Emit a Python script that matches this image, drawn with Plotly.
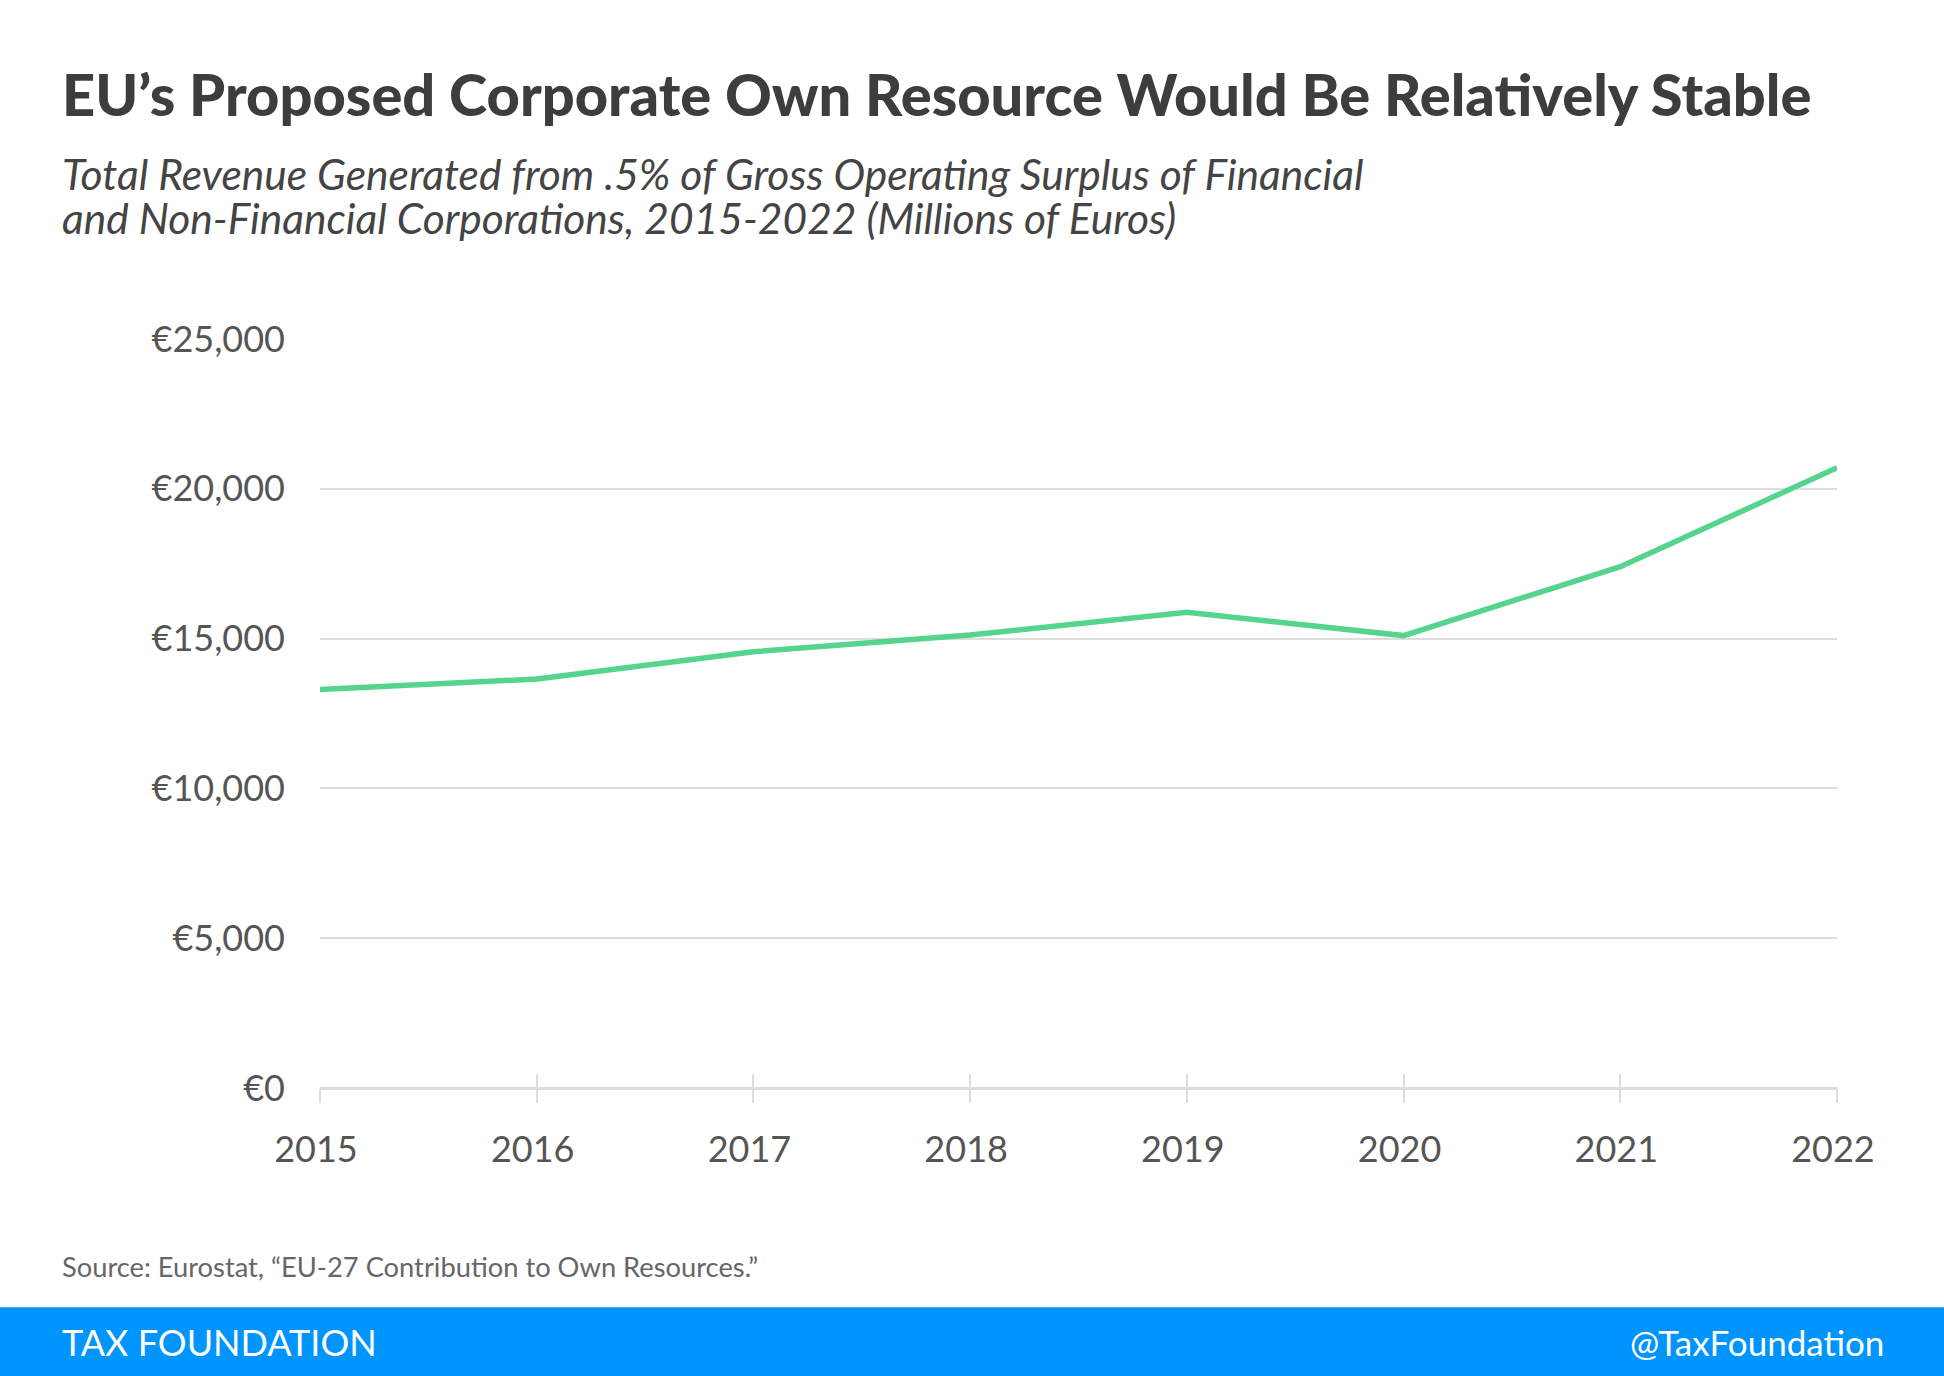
import plotly.graph_objects as go

years = [2015, 2016, 2017, 2018, 2019, 2020, 2021, 2022]
revenue = [13300, 13650, 14560, 15120, 15880, 15100, 17400, 20700]
y_ticks = [0, 5000, 10000, 15000, 20000, 25000]
y_tick_text = ["€" + f"{v:,}" for v in y_ticks]

W_FIG, H_FIG = 1944, 1376
L, R = 320, 1837
T, B = 338.5, 1088.5
PW, PH = R - L, B - T

def px(xp):
    return (xp - L) / PW

def py(yp):
    return (B - yp) / PH

GREEN = "#55D48E"
TXT = "#555555"

fig = go.Figure()
fig.add_trace(go.Scatter(x=years, y=revenue, mode="lines",
                         line=dict(color=GREEN, width=5.5), showlegend=False,
                         hoverinfo="skip"))
fig.add_trace(go.Scatter(x=years, y=[None]*len(years), xaxis="x2", mode="lines",
                         showlegend=False, hoverinfo="skip"))

fig.update_layout(
    width=W_FIG, height=H_FIG,
    margin=dict(l=L, r=W_FIG - R, t=T, b=H_FIG - B),
    paper_bgcolor="white", plot_bgcolor="white",
    font=dict(family="Lato", color=TXT),
    xaxis=dict(range=[2015, 2022], tickvals=years, ticktext=[str(y) for y in years],
               showgrid=False, zeroline=False, showline=False,
               ticks="outside", ticklen=14, tickwidth=2, tickcolor="#dddddd",
               ticklabelstandoff=16, ticklabelshift=-4,
               tickfont=dict(size=36, color=TXT, family="Lato")),
    xaxis2=dict(range=[2015, 2022], overlaying="x", tickvals=years, showticklabels=False,
                showgrid=False, zeroline=False, showline=False,
                ticks="inside", ticklen=14, tickwidth=2, tickcolor="#dddddd"),
    yaxis=dict(range=[0, 25000], tickvals=y_ticks, ticktext=y_tick_text,
               showgrid=True, gridcolor="#dddddd", gridwidth=1.5,
               zeroline=True, zerolinecolor="#dddddd", zerolinewidth=2.5,
               showline=False, ticks="", ticklabelstandoff=34,
               tickfont=dict(size=36, color=TXT, family="Lato")),
)

annotations = [
    dict(text="EU’s Proposed Corporate Own Resource Would Be Relatively Stable",
         x=px(60), y=py(93), xanchor="left", yanchor="middle",
         font=dict(size=57.8, color="#3d3d3d", family="Lato", weight=900)),
    dict(text="<i>Total Revenue Generated from .5% of Gross Operating Surplus of Financial</i>",
         x=px(60), y=py(172.5), xanchor="left", yanchor="middle", align="left",
         font=dict(size=42.5, color="#444444", family="Lato")),
    dict(text="<i>and Non-Financial Corporations, 2015-2022 (Millions of Euros)</i>",
         x=px(60), y=py(217), xanchor="left", yanchor="middle", align="left",
         font=dict(size=42.5, color="#444444", family="Lato")),
    dict(text="Source: Eurostat, “EU-27 Contribution to Own Resources.”",
         x=px(60), y=py(1267), xanchor="left", yanchor="middle",
         font=dict(size=27.3, color="#666666", family="Lato")),
    dict(text="TAX FOUNDATION", x=px(60), y=py(1343), xanchor="left", yanchor="middle",
         font=dict(size=36, color="white", family="Lato")),
    dict(text="@TaxFoundation", x=px(1886), y=py(1343), xanchor="right", yanchor="middle",
         font=dict(size=35, color="white", family="Lato")),
]
for a in annotations:
    a.update(xref="paper", yref="paper", showarrow=False)
fig.update_layout(annotations=annotations)

fig.add_shape(type="rect", xref="paper", yref="paper",
              x0=px(0), x1=px(W_FIG), y0=py(1308), y1=py(1380),
              fillcolor="#0094FF", line=dict(width=0), layer="below")

fig.write_html("out.html", config={"displayModeBar": False},
               post_script="document.body.style.margin='0';")
